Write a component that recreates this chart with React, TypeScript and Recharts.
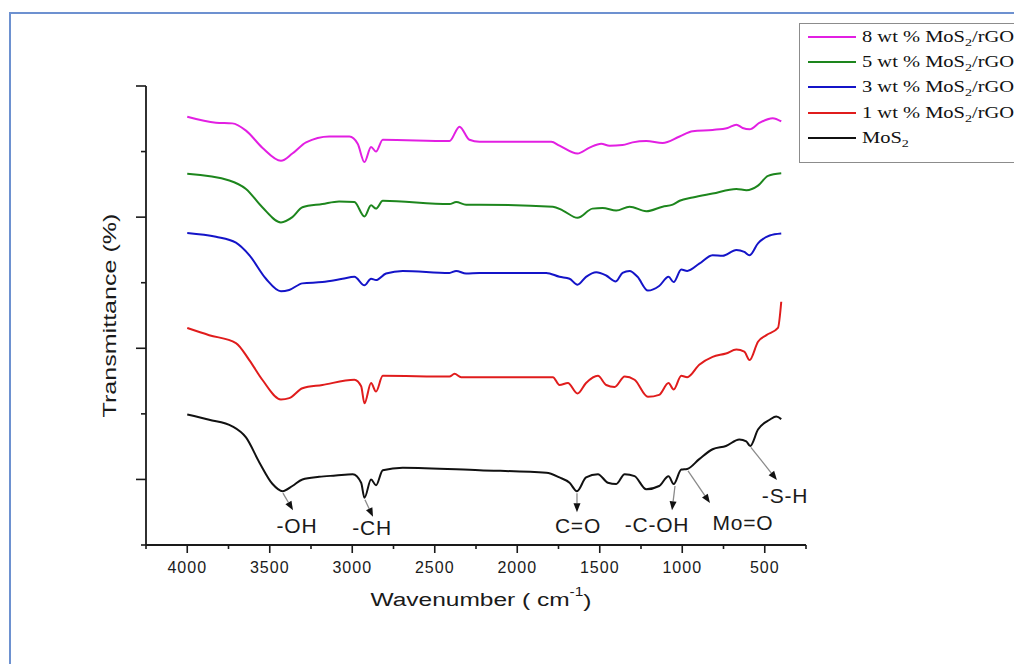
import React from 'react';
import { LineChart, Line, XAxis, YAxis, ReferenceLine, ReferenceDot, Label } from 'recharts';

// [wavenumber cm-1, transmittance (offset, a.u.)]
const wt8: [number, number][] = [
  [4000, 65.3], [3826, 64.4], [3727, 64.3], [3644, 63.2], [3545, 60.6], [3432, 58.6], [3363, 59.7],
  [3280, 61.4], [3139, 62.3], [3017, 62.3], [2967, 61.2], [2926, 58.4], [2886, 60.7], [2856, 60.0],
  [2815, 61.8], [2411, 61.6], [2350, 63.8], [2290, 61.8], [2229, 61.5], [1794, 61.5], [1744, 60.9],
  [1635, 59.7], [1562, 60.6], [1491, 61.2], [1441, 60.9], [1362, 61.0], [1301, 61.4], [1218, 61.6],
  [1119, 61.3], [1016, 62.3], [937, 63.1], [816, 63.3], [725, 63.6], [672, 64.1], [634, 63.6],
  [592, 63.4], [531, 64.4], [452, 65.1], [400, 64.6],
];

const wt5: [number, number][] = [
  [4000, 56.6], [3745, 55.6], [3644, 54.3], [3545, 51.5], [3432, 49.2], [3363, 50.0], [3302, 51.5],
  [3181, 52.0], [3080, 52.4], [2987, 52.3], [2926, 50.1], [2886, 51.8], [2856, 51.3], [2815, 52.5],
  [2411, 52.0], [2370, 52.3], [2310, 51.9], [2229, 51.9], [1784, 51.6], [1723, 51.0], [1635, 49.9],
  [1544, 51.3], [1483, 51.4], [1400, 51.0], [1319, 51.6], [1218, 50.9], [1119, 51.6], [1058, 51.9],
  [1016, 52.5], [937, 53.0], [816, 53.6], [672, 54.3], [611, 54.1], [541, 54.8], [480, 56.3],
  [400, 56.7],
];

const wt3: [number, number][] = [
  [4000, 47.6], [3826, 47.0], [3705, 46.1], [3624, 44.2], [3523, 40.6], [3432, 38.7], [3382, 38.9],
  [3302, 39.9], [3181, 40.1], [3059, 40.6], [2987, 40.9], [2926, 39.6], [2886, 40.6], [2856, 40.4],
  [2795, 41.4], [2694, 41.8], [2411, 41.5], [2370, 41.8], [2310, 41.4], [2229, 41.5], [1824, 41.5],
  [1744, 40.9], [1683, 40.6], [1635, 39.7], [1583, 40.9], [1521, 41.6], [1461, 41.1], [1403, 40.2],
  [1362, 41.5], [1319, 41.8], [1271, 40.9], [1208, 38.8], [1140, 39.5], [1083, 40.9], [1052, 40.1],
  [1006, 42.0], [970, 41.8], [897, 42.9], [816, 44.2], [755, 44.1], [672, 45.0], [624, 44.7],
  [592, 44.2], [541, 46.0], [470, 47.2], [400, 47.5],
];

const wt1: [number, number][] = [
  [4000, 33.1], [3867, 32.0], [3705, 30.8], [3624, 28.2], [3545, 25.2], [3432, 22.2], [3382, 22.4],
  [3302, 23.9], [3181, 24.4], [2987, 25.2], [2946, 24.2], [2926, 21.6], [2886, 24.7], [2856, 23.4],
  [2815, 25.8], [2411, 25.7], [2380, 26.1], [2340, 25.6], [2229, 25.6], [1784, 25.6], [1744, 24.4],
  [1693, 24.7], [1635, 23.1], [1583, 24.7], [1511, 25.8], [1461, 24.4], [1410, 24.1], [1349, 25.7],
  [1289, 25.2], [1208, 22.6], [1140, 22.9], [1083, 24.7], [1052, 23.7], [1006, 25.8], [970, 25.6],
  [897, 27.5], [816, 28.7], [735, 29.2], [672, 29.8], [624, 29.5], [592, 28.2], [541, 31.0],
  [490, 32.0], [420, 33.1], [400, 37.1],
];

const mos2: [number, number][] = [
  [4000, 19.9], [3867, 19.1], [3727, 18.1], [3644, 16.4], [3563, 12.6], [3483, 9.3], [3422, 8.2],
  [3363, 9.0], [3302, 10.0], [3201, 10.4], [3100, 10.6], [2997, 10.8], [2946, 9.5], [2926, 7.2],
  [2886, 10.0], [2856, 9.1], [2815, 11.4], [2694, 11.8], [2229, 11.4], [1824, 11.0], [1744, 10.3],
  [1683, 9.5], [1638, 8.2], [1583, 10.3], [1511, 10.8], [1451, 9.5], [1400, 9.3], [1349, 10.8],
  [1289, 10.5], [1218, 8.5], [1140, 9.0], [1083, 10.5], [1052, 9.3], [1006, 11.5], [970, 11.6],
  [897, 13.1], [816, 14.6], [735, 15.1], [654, 16.1], [612, 15.8], [588, 15.1], [541, 17.6],
  [470, 19.1], [430, 19.6], [400, 19.2],
];

const wavenumberTicks = [4250, 4000, 3750, 3500, 3250, 3000, 2750, 2500, 2250, 2000, 1750, 1500, 1250, 1000, 750, 500, 250];
const transmittanceTicks = [0, 10, 20, 30, 40, 50, 60, 70];

// band assignments: arrow from -> to, label position (wavenumber, transmittance)
const bands = [
  { label: '-OH', from: [3420, 7.9], to: [3359, 5.3], at: [3335, 2.9] },
  { label: '-CH', from: [2923, 6.9], to: [2874, 4.3], at: [2880, 2.6] },
  { label: 'C=O', from: [1638, 7.9], to: [1638, 5.0], at: [1632, 2.9] },
  { label: '-C-OH', from: [1044, 9.0], to: [1062, 5.3], at: [1153, 3.1] },
  { label: 'Mo=O', from: [965, 11.3], to: [832, 6.4], at: [632, 3.5] },
  { label: '-S-H', from: [584, 14.9], to: [426, 9.9], at: [377, 7.6] },
];

const series = [
  { name: '8 wt % MoS', tail: '/rGO', color: '#e21fe2', data: wt8 },
  { name: '5 wt % MoS', tail: '/rGO', color: '#1d861d', data: wt5 },
  { name: '3 wt % MoS', tail: '/rGO', color: '#1414c8', data: wt3 },
  { name: '1 wt % MoS', tail: '/rGO', color: '#e01c1c', data: wt1 },
  { name: 'MoS', tail: '', color: '#111111', data: mos2 },
];

const SANS = '"Liberation Sans", Arial, sans-serif';
const SERIF = '"Liberation Serif", "Times New Roman", serif';
const INK = '#1a1a1a';

const XTick = ({ x, y, payload }: any) => {
  const major = payload.value % 500 === 0;
  return (
    <g>
      <line x1={x} x2={x} y1={y} y2={y + (major ? 8 : 4)} stroke={INK} strokeWidth={1.6} />
      {major && (
        <text x={x} y={y + 28} textAnchor="middle" fontFamily={SANS} fontSize={16} letterSpacing={1} fill={INK}>
          {payload.value}
        </text>
      )}
    </g>
  );
};

const YTick = ({ x, y, payload }: any) => {
  const major = payload.value % 20 === 10;
  return <line x1={x} x2={x - (major ? 10 : 5)} y1={y} y2={y} stroke={INK} strokeWidth={1.6} />;
};

const Arrow = (p: any) => {
  const { x1, y1, x2, y2 } = p;
  const a = Math.atan2(y2 - y1, x2 - x1);
  const bx = x2 - 9 * Math.cos(a);
  const by = y2 - 9 * Math.sin(a);
  const nx = -Math.sin(a) * 3.5;
  const ny = Math.cos(a) * 3.5;
  return (
    <g>
      <line x1={x1} y1={y1} x2={bx} y2={by} stroke="#8a8a8a" strokeWidth={1.3} />
      <polygon points={`${x2},${y2} ${bx + nx},${by + ny} ${bx - nx},${by - ny}`} fill="#111" />
    </g>
  );
};

const XTitle = ({ viewBox }: any) => {
  const cx = viewBox.x + viewBox.width / 2 + 5;
  const cy = viewBox.y + 55;
  return (
    <text transform={`translate(${cx},${cy}) scale(1.29,1)`} textAnchor="middle" dominantBaseline="central"
      fontFamily={SANS} fontSize={19} fill={INK}>
      Wavenumber ( cm<tspan dy={-8} fontSize={12}>-1</tspan><tspan dy={8}>)</tspan>
    </text>
  );
};

const YTitle = ({ viewBox }: any) => {
  const cx = viewBox.x + viewBox.width - 36;
  const cy = viewBox.y + viewBox.height / 2;
  return (
    <text transform={`translate(${cx},${cy}) rotate(-90) scale(1.32,1)`} textAnchor="middle" dominantBaseline="central"
      fontFamily={SANS} fontSize={19} fill={INK}>
      Transmittance (%)
    </text>
  );
};

const toPoints = (rows: [number, number][]) => rows.map(([w, t]) => ({ w, t }));

export default function App() {
  return (
    <div style={{ position: 'absolute', left: 0, top: 0, width: 1014, height: 664, background: '#fff', overflow: 'hidden' }}>
      <div style={{ position: 'absolute', left: 9, top: 12, width: 1100, height: 700, borderTop: '2px solid #6d91d0', borderLeft: '2px solid #6d91d0' }} />
      <LineChart width={1014} height={664} margin={{ top: 86, right: 208, bottom: 118, left: 145 }} style={{ position: 'absolute', left: 0, top: 0 }}>
        <XAxis type="number" dataKey="w" domain={[250, 4250]} reversed ticks={wavenumberTicks} interval={0}
          tickSize={0} tickMargin={0} tickLine={false} tick={(p: any) => <XTick {...p} />} height={1}
          axisLine={{ stroke: INK, strokeWidth: 1.8 }} allowDataOverflow>
          <Label content={(p: any) => <XTitle {...p} />} />
        </XAxis>
        <YAxis type="number" domain={[0, 70]} ticks={transmittanceTicks} interval={0} width={1}
          tickSize={0} tickMargin={0} tickLine={false} tick={(p: any) => <YTick {...p} />}
          axisLine={{ stroke: INK, strokeWidth: 1.8 }} allowDataOverflow>
          <Label content={(p: any) => <YTitle {...p} />} />
        </YAxis>
        {series.map((s) => (
          <Line key={s.color} data={toPoints(s.data)} dataKey="t" type="monotone" stroke={s.color}
            strokeWidth={2} dot={false} activeDot={false} isAnimationActive={false} />
        ))}
        {bands.map((b) => (
          <ReferenceLine key={'a' + b.label} segment={[{ x: b.from[0], y: b.from[1] }, { x: b.to[0], y: b.to[1] }]}
            shape={(p: any) => <Arrow {...p} />} ifOverflow="visible" />
        ))}
        {bands.map((b) => (
          <ReferenceDot key={'t' + b.label} x={b.at[0]} y={b.at[1]} r={0} ifOverflow="visible"
            shape={(p: any) => (
              <text x={p.cx} y={p.cy} textAnchor="middle" dominantBaseline="central" fontFamily={SANS}
                fontSize={21} letterSpacing={0.8} fill={INK}>
                {b.label}
              </text>
            )} />
        ))}
      </LineChart>
      <div style={{ position: 'absolute', left: 799, top: 23, width: 260, height: 140, border: '1px solid #8c8c8c', boxSizing: 'border-box', background: '#fff' }}>
        {series.map((s, i) => (
          <div key={s.color} style={{ position: 'absolute', left: 0, top: 1 + i * 25.2, height: 24, width: 240 }}>
            <div style={{ position: 'absolute', left: 8, top: 11, width: 48, height: 2, background: s.color }} />
            <div style={{ position: 'absolute', left: 62, top: 2, whiteSpace: 'nowrap', fontFamily: SERIF, fontSize: 16,
              color: '#111', transform: 'scaleX(1.28)', transformOrigin: 'left center', lineHeight: '20px' }}>
              {s.name}<sub style={{ fontSize: 11, verticalAlign: '-4px', lineHeight: 0 }}>2</sub>{s.tail}
            </div>
          </div>
        ))}
      </div>
    </div>
  );
}
